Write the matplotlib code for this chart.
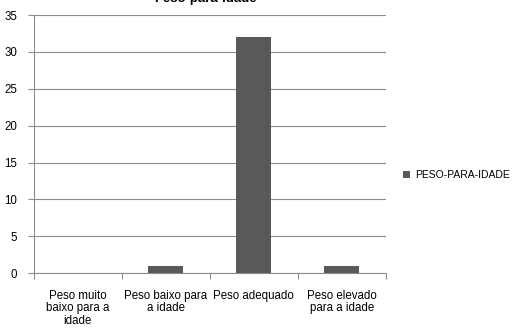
import matplotlib
matplotlib.use("Agg")
import matplotlib.pyplot as plt
import numpy as np

categories = ["Peso muito\nbaixo para a\nidade", "Peso baixo para\na idade", "Peso adequado", "Peso elevado\npara a idade"]
values = [0, 1, 32, 1]
series_name = "PESO-PARA-IDADE"
title = "Peso-para-idade"

plt.rcParams['font.family'] = ['Liberation Sans', 'DejaVu Sans']
fig = plt.figure(figsize=(5.2, 3.29), dpi=100)
ax = fig.add_axes([0.065, 0.170, 0.677, 0.784])
x = np.arange(len(categories))
bars = ax.bar(x, values, width=0.4, color="#595959", label=series_name, zorder=3)
ax.set_xlim(-0.5, len(categories) - 0.5)
ax.set_ylim(0, 35)
ax.set_yticks(range(0, 36, 5))
ax.yaxis.grid(True, color="#8c8c8c", linewidth=0.8, zorder=0)
for s in ["top", "right"]:
    ax.spines[s].set_visible(False)
ax.spines["left"].set_color("#8c8c8c")
ax.spines["bottom"].set_color("#8c8c8c")
ax.set_xticks(np.arange(-0.5, len(categories) + 0.5, 1))
ax.set_xticklabels([])
ax.set_xticks(x, minor=True)
ax.set_xticklabels(categories, minor=True, fontsize=8.3, linespacing=1.05)
ax.tick_params(axis="x", which="minor", length=0, pad=12)
ax.tick_params(axis="x", which="major", length=4, color="#8c8c8c")
ax.tick_params(axis="y", length=4, color="#8c8c8c", labelsize=8.3, pad=8)
ax.legend(loc="center left", bbox_to_anchor=(1.05, 0.38), frameon=False, fontsize=7.5,
          handlelength=0.6, handleheight=0.6, handletextpad=0.5, borderaxespad=0, borderpad=0)
fig.text(0.395, 1.002, title, ha="center", va="center", fontsize=9.5, fontweight="bold")
fig.savefig("out.png", dpi=100)
